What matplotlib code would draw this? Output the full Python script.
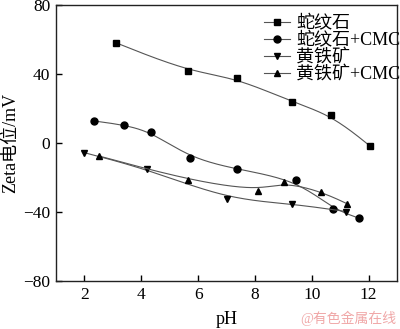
import numpy as np
import matplotlib
matplotlib.use('Agg')
import matplotlib.pyplot as plt

plt.rcParams['font.family'] = ['Liberation Serif', 'Noto Sans CJK SC']
plt.rcParams['axes.unicode_minus'] = True

# 蛇纹石
serp_ph = [3.12, 5.64, 7.36, 9.29, 10.69, 12.06]
serp_zeta = [58.0, 41.5, 37.7, 23.8, 16.2, -1.9]
# 蛇纹石+CMC
serp_cmc_ph = [2.32, 3.40, 4.35, 5.72, 7.37, 9.45, 10.76, 11.65]
serp_cmc_zeta = [12.8, 10.4, 6.4, -8.7, -15.3, -21.4, -38.4, -43.5]
# 黄铁矿
pyr_ph = [1.99, 4.20, 7.02, 9.30, 11.22]
pyr_zeta = [-5.6, -15.1, -32.6, -35.2, -39.8]
# 黄铁矿+CMC
pyr_cmc_ph = [2.50, 5.63, 8.10, 9.02, 10.33, 11.24]
pyr_cmc_zeta = [-7.5, -21.4, -27.8, -22.6, -28.2, -35.2]

labels = ['蛇纹石', '蛇纹石+CMC', '黄铁矿', '黄铁矿+CMC']
markers = ['s', 'o', 'v', '^']
msizes = [4.0, 5.0, 5.0, 5.0]


def bspline(xs, ys, n=40):
    # uniform cubic B-spline, data points as control points, ends pinned
    p = np.column_stack([xs, ys]).astype(float)
    p = np.vstack([p[0], p[0], p, p[-1], p[-1]])
    t = np.linspace(0, 1, n)[:, None]
    b0 = (1 - t) ** 3 / 6
    b1 = (3 * t ** 3 - 6 * t ** 2 + 4) / 6
    b2 = (-3 * t ** 3 + 3 * t ** 2 + 3 * t + 1) / 6
    b3 = t ** 3 / 6
    out = []
    for i in range(len(p) - 3):
        out.append(b0 * p[i] + b1 * p[i + 1] + b2 * p[i + 2] + b3 * p[i + 3])
    out = np.vstack(out)
    return out[:, 0], out[:, 1]


fig = plt.figure(figsize=(4.0, 3.29), dpi=100)
ax = fig.add_axes([0.14, 0.146, 0.8525, 0.839])

series = [(serp_ph, serp_zeta), (serp_cmc_ph, serp_cmc_zeta),
          (pyr_ph, pyr_zeta), (pyr_cmc_ph, pyr_cmc_zeta)]
for (xs, ys), lab, mk, ms in zip(series, labels, markers, msizes):
    sx, sy = bspline(xs, ys)
    ax.plot(sx, sy, color='#555555', lw=0.8)
    ax.plot(xs, ys, ls='none', marker=mk, ms=ms, color='black')
    ax.plot([], [], color='#555555', lw=0.8, marker=mk, ms=ms,
            mfc='black', mec='black', label=lab)

ax.set_xlim(1, 13)
ax.set_ylim(-80, 80)
ax.set_xticks([2, 4, 6, 8, 10, 12])
ax.set_yticks([-80, -40, 0, 40, 80])
ax.tick_params(direction='in', length=4, width=1, labelsize=12.5,
               top=False, right=False, pad=4)
for s in ax.spines.values():
    s.set_linewidth(1)
    s.set_color('#222222')

ax.set_xlabel('pH', fontsize=13, labelpad=6)
ax.set_ylabel('Zeta电位/mV', fontsize=13, labelpad=3)

ax.legend(loc='upper right', frameon=False, fontsize=13, handlelength=1.4,
          handletextpad=0.35, labelspacing=0.0, borderaxespad=0.0,
          bbox_to_anchor=(1.03, 0.99))

fig.text(0.99, 0.01, '@有色金属在线', color='#f0a8a8', fontsize=10,
         ha='right', va='bottom')

fig.savefig('out.png', dpi=100)
